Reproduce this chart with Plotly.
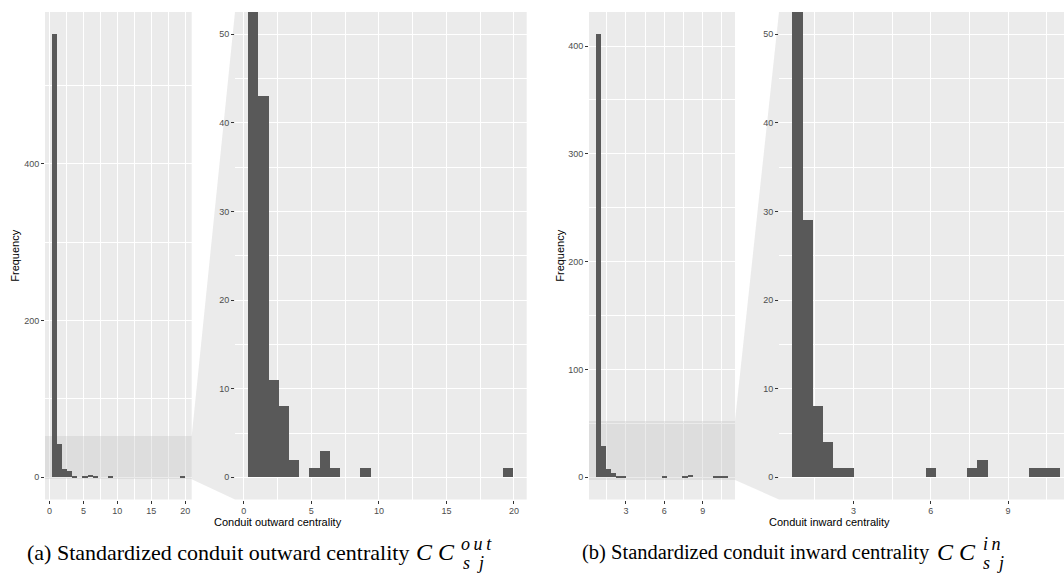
import plotly.graph_objects as go

W, H = 1064, 578

# ---- data -----------------------------------------------------------------
# (a) standardized conduit outward centrality: 26 equal-width bins
out_bin_start = 0.33
out_bin_width = 0.755
out_counts = [565, 43, 11, 8, 2, 0, 1, 3, 1, 0, 0, 1, 0,
              0, 0, 0, 0, 0, 0, 0, 0, 0, 0, 0, 0, 1]

# (b) standardized conduit inward centrality: 26 equal-width bins
in_bin_start = 0.63
in_bin_width = 0.399
in_counts = [411, 29, 8, 4, 1, 1, 0, 0, 0, 0, 0, 0, 0,
             1, 0, 0, 0, 1, 2, 0, 0, 0, 0, 1, 1, 1]

out_ticks = [0, 5, 10, 15, 20]
in_ticks = [3, 6, 9]
zoom_limits = [0, 50]

out_title = "Conduit outward centrality"
in_title = "Conduit inward centrality"
y_title = "Frequency"
cap_a = "(a) Standardized conduit outward centrality"
cap_b = "(b) Standardized conduit inward centrality"

# ---- styling --------------------------------------------------------------
PANEL_BG = "#EBEBEB"
BAR = "#595959"
TICK_TXT = "#4D4D4D"
SANS = "Liberation Sans, Arial, sans-serif"
SERIF = "Liberation Serif, Times New Roman, serif"
ZOOM_FILL = "rgba(190,190,190,0.3)"

# panel placement in pixels (left, right), shared top/bottom
PY_TOP, PY_BOT = 12, 499.5
PA_MAIN = (45, 191.7)
PA_ZOOM = (235, 526.7)
PB_MAIN = (589, 735)
PB_ZOOM = (779, 1064)
PB_ZOOM_FULL_RIGHT = 1073  # the zoomed panel runs past the page edge


def px_x(v):
    return v / W


def px_y(v):
    return 1 - v / H


def centers(start, width, n):
    return [start + width * (i + 0.5) for i in range(n)]


def expand(lo, hi, f=0.05):
    d = (hi - lo) * f
    return [lo - d, hi + d]


n_out = len(out_counts)
n_in = len(in_counts)
out_x = centers(out_bin_start, out_bin_width, n_out)
in_x = centers(in_bin_start, in_bin_width, n_in)

out_xrange = expand(out_bin_start, out_bin_start + out_bin_width * n_out)
in_xrange = expand(in_bin_start, in_bin_start + in_bin_width * n_in)
out_yrange = expand(0, max(out_counts))
in_yrange = expand(0, max(in_counts))
zoom_yrange = expand(*zoom_limits)

# visible part of the cropped zoom panel for (b)
frac = (PB_ZOOM[1] - PB_ZOOM[0]) / (PB_ZOOM_FULL_RIGHT - PB_ZOOM[0])
in_zoom_xrange = [in_xrange[0], in_xrange[0] + (in_xrange[1] - in_xrange[0]) * frac]

fig = go.Figure()

panels = [
    # axis suffix, x values, counts, width, x range, y range, ticks, minor dx, dy, minor dy, domain, overview?
    ("", out_x, out_counts, out_bin_width, out_xrange, out_yrange, out_ticks, 2.5, 200, 100, PA_MAIN, True),
    ("2", out_x, out_counts, out_bin_width, out_xrange, zoom_yrange, out_ticks, 2.5, 10, 5, PA_ZOOM, False),
    ("3", in_x, in_counts, in_bin_width, in_xrange, in_yrange, in_ticks, 1.5, 100, 50, PB_MAIN, True),
    ("4", in_x, in_counts, in_bin_width, in_zoom_xrange, zoom_yrange, in_ticks, 1.5, 10, 5, PB_ZOOM, False),
]

for suf, xs, ys, w, xr, yr, xt, xminor, ydt, yminor, dom, overview in panels:
    if overview:
        # translucent band marking the zoomed window (under the bars, over the grid)
        fig.add_trace(go.Bar(
            x=[(xr[0] + xr[1]) / 2], y=[zoom_yrange[1] - zoom_yrange[0]],
            base=[zoom_yrange[0]], width=[xr[1] - xr[0]],
            marker=dict(color=ZOOM_FILL, line=dict(width=0)),
            xaxis="x" + suf, yaxis="y" + suf, showlegend=False, hoverinfo="skip",
        ))
    fig.add_trace(go.Bar(
        x=xs, y=ys, width=w,
        marker=dict(color=BAR, line=dict(width=0)),
        xaxis="x" + suf, yaxis="y" + suf, showlegend=False,
        hoverinfo="x+y",
    ))
    axis_common = dict(
        showline=False, zeroline=False, showgrid=True,
        gridcolor="white", gridwidth=1.1,
        ticks="outside", ticklen=3, tickwidth=1, tickcolor="#333333",
        tickfont=dict(family=SANS, size=9, color=TICK_TXT),
        fixedrange=True,
    )
    fig.update_layout(**{
        "xaxis" + suf: dict(
            axis_common, domain=[px_x(dom[0]), px_x(dom[1])], range=xr,
            tickmode="array", tickvals=xt, ticktext=[str(t) for t in xt],
            minor=dict(dtick=xminor, tick0=0, showgrid=True,
                       gridcolor="white", gridwidth=0.55, ticks=""),
            anchor="y" + suf,
        ),
        "yaxis" + suf: dict(
            axis_common, domain=[px_y(PY_BOT), px_y(PY_TOP)], range=yr,
            dtick=ydt, tick0=0,
            minor=dict(dtick=yminor, tick0=0, showgrid=True,
                       gridcolor="white", gridwidth=0.55, ticks=""),
            anchor="x" + suf,
        ),
    })

shapes = []


def y_to_px(v, yr):
    return PY_BOT - (v - yr[0]) / (yr[1] - yr[0]) * (PY_BOT - PY_TOP)


for yr, main, zoom in [(out_yrange, PA_MAIN, PA_ZOOM), (in_yrange, PB_MAIN, PB_ZOOM)]:
    # connector from the window in the overview to the zoomed panel
    top = y_to_px(zoom_yrange[1], yr)
    bot = y_to_px(zoom_yrange[0], yr)
    path = (f"M {px_x(main[1])},{px_y(top)} L {px_x(zoom[0])},{px_y(PY_TOP)} "
            f"L {px_x(zoom[0])},{px_y(PY_BOT)} L {px_x(main[1])},{px_y(bot)} Z")
    shapes.append(dict(
        type="path", xref="paper", yref="paper", path=path,
        fillcolor=ZOOM_FILL, line=dict(width=0), layer="below",
    ))

annotations = []


def ann(text, x, y, size, family=SANS, color="black", xanchor="center", angle=0):
    annotations.append(dict(
        text=text, x=px_x(x), y=px_y(y), xref="paper", yref="paper",
        showarrow=False, xanchor=xanchor, yanchor="middle", textangle=angle,
        font=dict(family=family, size=size, color=color),
    ))


ann(y_title, 15, (PY_TOP + PY_BOT) / 2, 11, angle=-90)
ann(y_title, 560, (PY_TOP + PY_BOT) / 2, 11, angle=-90)
ann(out_title, 278, 522, 11)
ann(in_title, 829, 522, 11)

# figure captions with stacked super/subscripts
ann(cap_a, 25, 552, 22, family=SERIF, xanchor="left")
ann("<i>C</i>", 424, 552, 24, family=SERIF)
ann("<i>C</i>", 446, 552, 24, family=SERIF)
ann("<i>o&#8201;u&#8201;t</i>", 459, 544, 18, family=SERIF, xanchor="left")
ann("<i>s&#8194;j</i>", 461, 563, 18, family=SERIF, xanchor="left")

ann(cap_b, 580, 552, 20.5, family=SERIF, xanchor="left")
ann("<i>C</i>", 945, 552, 24, family=SERIF)
ann("<i>C</i>", 967, 552, 24, family=SERIF)
ann("<i>i&#8201;n</i>", 981, 544, 18, family=SERIF, xanchor="left")
ann("<i>s&#8194;j</i>", 981, 563, 18, family=SERIF, xanchor="left")

fig.update_layout(
    width=W, height=H,
    margin=dict(l=0, r=0, t=0, b=0),
    paper_bgcolor="white", plot_bgcolor=PANEL_BG,
    bargap=0, barmode="overlay",
    shapes=shapes, annotations=annotations,
)

fig.write_html("out.html", config={"displayModeBar": False})
